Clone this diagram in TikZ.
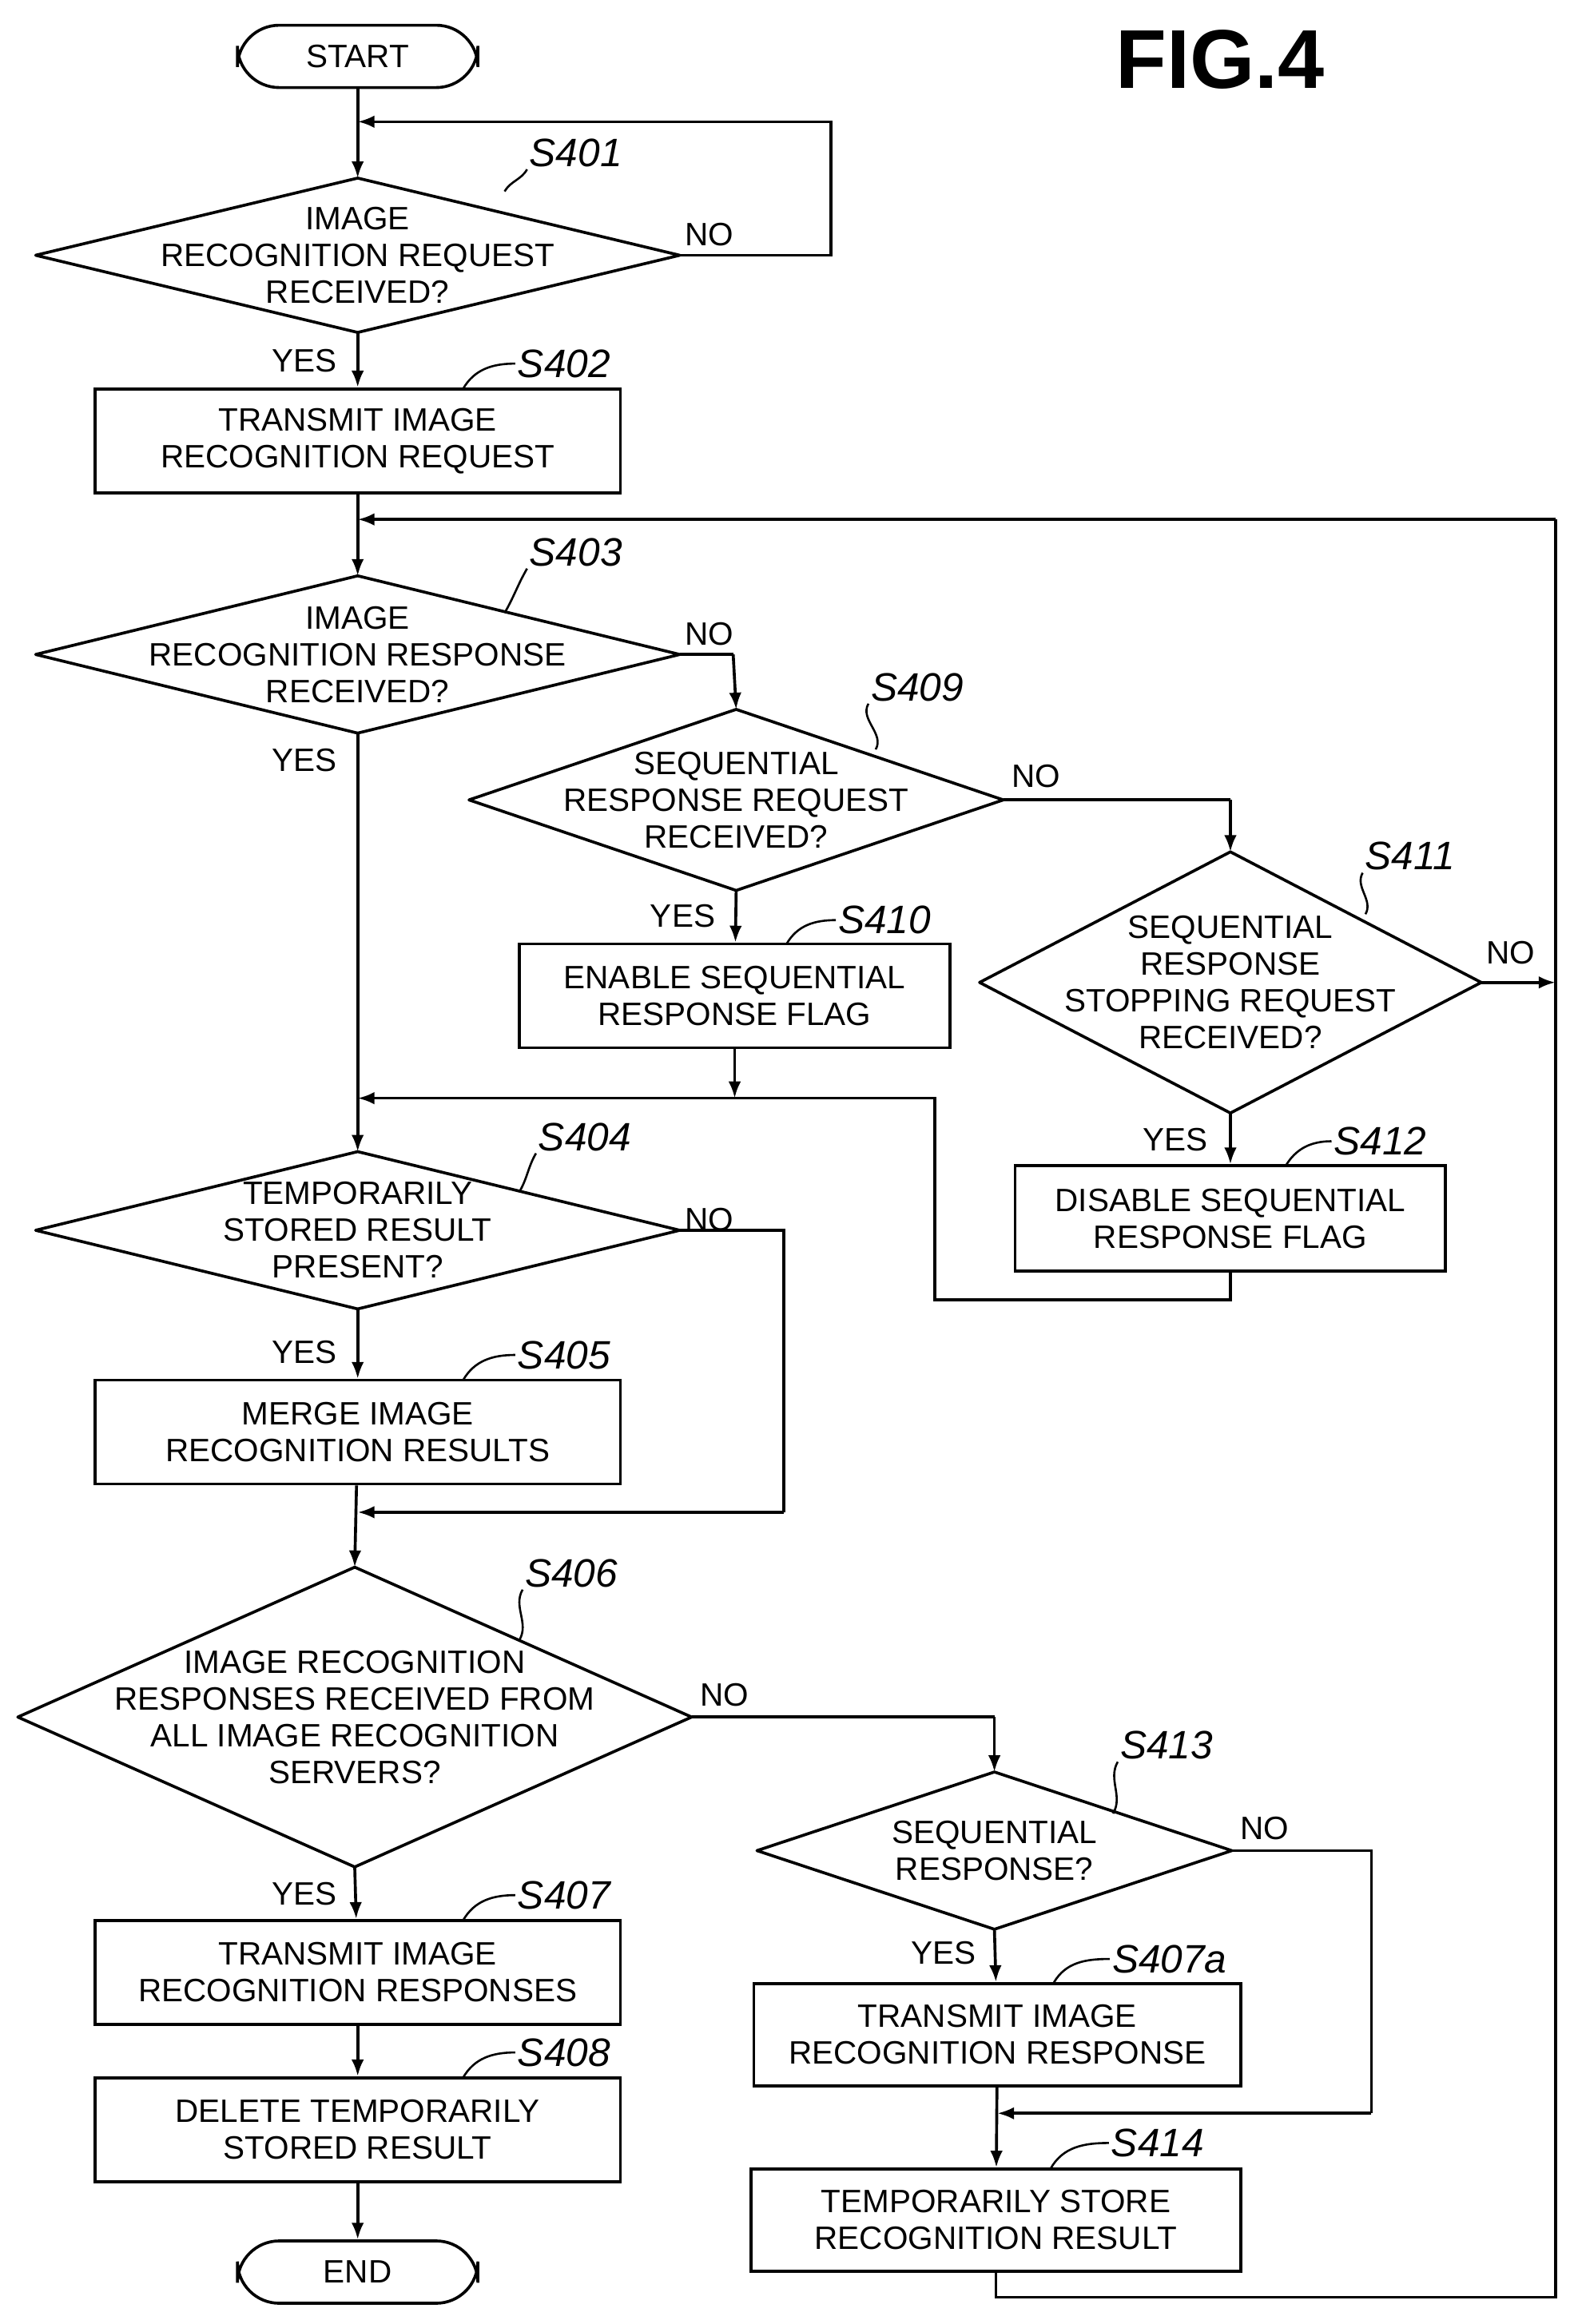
\documentclass[tikz,border=0pt]{standalone}
\usepackage{fontspec}
\setmainfont{Liberation Sans}
\usetikzlibrary{arrows.meta,calc}
\begin{document}
\begin{tikzpicture}[x=0.025cm,y=-0.025cm,
  line/.style={line width=1.4pt},
  arr/.style={line width=1.4pt,-{Latex[length=8pt,width=6pt]}},
  txt/.style={align=center,font=\fontsize{15.5}{17.6}\selectfont,inner sep=0pt},
  box/.style={draw,line width=1.4pt,align=center,font=\fontsize{15.5}{17.6}\selectfont,inner sep=0pt},
  term/.style={box,rounded corners=20pt,minimum width=162*0.025cm,minimum height=42*0.025cm},
  lab/.style={font=\fontsize{19}{20}\selectfont\itshape,inner sep=1pt},
  yn/.style={font=\fontsize{15.5}{17}\selectfont,inner sep=0pt},
  lead/.style={line width=1pt}]
\useasboundingbox (0,0) rectangle (1060,1566);
\newcommand\mydia[6]{%
  \node[txt] (#1) at (#2,#3) {#6};
  \coordinate (#1-l) at (#2-#4,#3); \coordinate (#1-r) at (#2+#4,#3);
  \coordinate (#1-t) at (#2,#3-#5); \coordinate (#1-b) at (#2,#3+#5);
  \draw[line,line join=round] (#1-l)--(#1-t)--(#1-r)--(#1-b)--cycle;}
\newcommand\mybox[6]{\node[box,minimum width=#4*0.025cm,minimum height=#5*0.025cm] (#1) at (#2,#3) {#6};}

\node[font=\fontsize{40}{40}\selectfont\bfseries] (fig) at (822,40) {FIG.4};
\node[term] (start) at (241,38) {START};
\node[term] (end) at (241,1531) {END};

\mydia{d1}{241}{172}{217}{52}{IMAGE\\RECOGNITION REQUEST\\RECEIVED?}
\mybox{b402}{241}{297}{354}{70}{TRANSMIT IMAGE\\RECOGNITION REQUEST}
\mydia{d2}{241}{441}{217}{53}{IMAGE\\RECOGNITION RESPONSE\\RECEIVED?}
\mydia{d3}{496}{539}{180}{61}{SEQUENTIAL\\RESPONSE REQUEST\\RECEIVED?}
\mybox{b410}{495}{671}{290}{70}{ENABLE SEQUENTIAL\\RESPONSE FLAG}
\mydia{d4}{829}{662}{169}{88}{SEQUENTIAL\\RESPONSE\\STOPPING REQUEST\\RECEIVED?}
\mybox{b412}{829}{821}{290}{71}{DISABLE SEQUENTIAL\\RESPONSE FLAG}
\mydia{d5}{241}{829}{217}{53}{TEMPORARILY\\STORED RESULT\\PRESENT?}
\mybox{b405}{241}{965}{354}{70}{MERGE IMAGE\\RECOGNITION RESULTS}
\mydia{d6}{239}{1157}{227}{101}{IMAGE RECOGNITION\\RESPONSES RECEIVED FROM\\ALL IMAGE RECOGNITION\\SERVERS?}
\mydia{d7}{670}{1247}{160}{53}{SEQUENTIAL\\RESPONSE?}
\mybox{b407}{241}{1329}{354}{70}{TRANSMIT IMAGE\\RECOGNITION RESPONSES}
\mybox{b408}{241}{1435}{354}{70}{DELETE TEMPORARILY\\STORED RESULT}
\mybox{b407a}{672}{1371}{328}{69}{TRANSMIT IMAGE\\RECOGNITION RESPONSE}
\mybox{b414}{671}{1496}{330}{69}{TEMPORARILY STORE\\RECOGNITION RESULT}

% merge points
\coordinate (m1) at (241,82);
\coordinate (m2) at (241,350);
\coordinate (m3) at (241,740);
\coordinate (m4) at (241,1019);
\coordinate (m5) at (672,1424);

% main flow
\draw[arr] (start) -- (d1-t);
\draw[line] (d1-r) -- (560,172) -- (560,82) -- ++(-200,0);
\draw[arr] (560,82) -- (m1);
\draw[arr] (d1-b) -- (b402);
\draw[arr] (b402) -- (d2-t);
\draw[line] (d2-r) -- (494,441);
\draw[arr] (494,441) -- (d3-t);
\draw[line] (d3-r) -- (829,539);
\draw[arr] (829,539) -- (d4-t);
\draw[arr] (d4-r) -- (1048,662);
\draw[arr] (d3-b) -- (b410);
\draw[arr] (d4-b) -- (b412);
\draw[arr] (b410) -- (495,740);
\draw[line] (b412) -- (829,876) -- (630,876) -- (630,740) -- (495,740);
\draw[arr] (495,740) -- (m3);
\draw[arr] (d2-b) -- (d5-t);
\draw[line] (d5-r) -- (528,829) -- (528,1019);
\draw[arr] (528,1019) -- (m4);
\draw[arr] (d5-b) -- (b405);
\draw[arr] (b405) -- (d6-t);
\draw[line] (d6-r) -- (670,1157);
\draw[arr] (670,1157) -- (d7-t);
\draw[arr] (d6-b) -- (b407);
\draw[arr] (b407) -- (b408);
\draw[arr] (b408) -- (end);
\draw[arr] (d7-b) -- (b407a);
\draw[line] (d7-r) -- (924,1247) -- (924,1424);
\draw[arr] (924,1424) -- (m5);
\draw[arr] (b407a) -- (b414);
\draw[line] (b414) -- (671,1548) -- (1048,1548) -- (1048,350);
\draw[arr] (1048,350) -- (m2);

% yes/no
\node[yn] at (478,158) {NO};
\node[yn] at (205,243) {YES};
\node[yn] at (478,427) {NO};
\node[yn] at (205,512) {YES};
\node[yn] at (698,523) {NO};
\node[yn] at (460,617) {YES};
\node[yn] at (1018,642) {NO};
\node[yn] at (792,768) {YES};
\node[yn] at (478,822) {NO};
\node[yn] at (205,911) {YES};
\node[yn] at (488,1142) {NO};
\node[yn] at (205,1276) {YES};
\node[yn] at (852,1232) {NO};
\node[yn] at (636,1316) {YES};

% step labels with leaders
\node[lab] (l401) at (388,103) {S401};
\draw[lead] (l401.south west) to[out=-120,in=60] (340,129);
\node[lab] (l402) at (380,245) {S402};
\draw[lead] (l402.west) to[out=180,in=60] (312,262);
\node[lab] (l403) at (388,372) {S403};
\draw[lead] (l403.south west) to[out=-120,in=60] (340,413);
\node[lab] (l409) at (618,463) {S409};
\draw[lead] (l409.south west) to[out=-120,in=60] (590,505);
\node[lab] (l410) at (596,620) {S410};
\draw[lead] (l410.west) to[out=180,in=60] (530,636);
\node[lab] (l411) at (950,577) {S411};
\draw[lead] (l411.south west) to[out=-120,in=60] (920,616);
\node[lab] (l412) at (930,769) {S412};
\draw[lead] (l412.west) to[out=180,in=60] (866,786);
\node[lab] (l404) at (394,766) {S404};
\draw[lead] (l404.south west) to[out=-120,in=60] (350,803);
\node[lab] (l405) at (380,913) {S405};
\draw[lead] (l405.west) to[out=180,in=60] (312,930);
\node[lab] (l406) at (385,1060) {S406};
\draw[lead] (l406.south west) to[out=-120,in=60] (350,1105);
\node[lab] (l413) at (786,1176) {S413};
\draw[lead] (l413.south west) to[out=-120,in=60] (750,1222);
\node[lab] (l407) at (380,1277) {S407};
\draw[lead] (l407.west) to[out=180,in=60] (312,1294);
\node[lab] (l408) at (380,1383) {S408};
\draw[lead] (l408.west) to[out=180,in=60] (312,1400);
\node[lab] (l407a) at (788,1320) {S407a};
\draw[lead] (l407a.west) to[out=180,in=60] (710,1336);
\node[lab] (l414) at (780,1444) {S414};
\draw[lead] (l414.west) to[out=180,in=60] (708,1461);
\end{tikzpicture}
\end{document}
